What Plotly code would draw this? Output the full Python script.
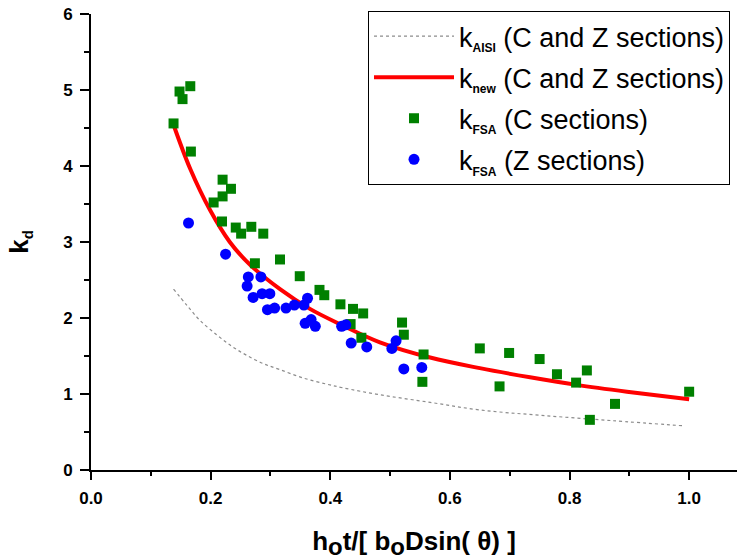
import plotly.graph_objects as go

# k_AISI curve
aisi_x = [0.138, 0.160, 0.182, 0.210, 0.235, 0.260, 0.288, 0.316, 0.355, 0.394,
          0.422, 0.483, 0.567, 0.650, 0.751, 0.870, 0.993]
aisi_y = [2.38, 2.17, 1.97, 1.78, 1.63, 1.51, 1.40, 1.32, 1.21, 1.13,
          1.08, 0.99, 0.89, 0.79, 0.72, 0.65, 0.58]

# k_new curve
new_x = [0.139, 0.166, 0.199, 0.232, 0.266, 0.316, 0.366, 0.416, 0.483, 0.567,
         0.650, 0.734, 0.812, 0.896, 1.0]
new_y = [4.52, 3.96, 3.42, 3.00, 2.70, 2.38, 2.12, 1.92, 1.68, 1.48,
         1.34, 1.22, 1.12, 1.03, 0.93]

# k_FSA C sections
c_x = [0.138, 0.148, 0.153, 0.166, 0.167, 0.205, 0.219, 0.220, 0.220, 0.234,
       0.242, 0.251, 0.268, 0.274, 0.288, 0.316, 0.349, 0.382, 0.390, 0.417,
       0.434, 0.438, 0.452, 0.455, 0.520, 0.523, 0.554, 0.556, 0.650, 0.683,
       0.699, 0.750, 0.779, 0.811, 0.829, 0.834, 0.876, 1.0]
c_y = [4.56, 4.98, 4.88, 5.05, 4.19, 3.52, 3.27, 3.82, 3.60, 3.70,
       3.19, 3.11, 3.20, 2.72, 3.11, 2.77, 2.55, 2.37, 2.30, 2.18,
       1.92, 2.12, 1.74, 2.06, 1.94, 1.78, 1.16, 1.52, 1.60, 1.10,
       1.54, 1.46, 1.26, 1.15, 1.31, 0.66, 0.87, 1.03]

# k_FSA Z sections
z_x = [0.163, 0.225, 0.263, 0.284, 0.261, 0.271, 0.286, 0.299, 0.295, 0.307,
       0.326, 0.340, 0.356, 0.362, 0.358, 0.368, 0.375, 0.419, 0.426, 0.435,
       0.461, 0.503, 0.510, 0.523, 0.553]
z_y = [3.25, 2.84, 2.54, 2.54, 2.42, 2.27, 2.32, 2.32, 2.11, 2.13,
       2.13, 2.17, 2.17, 2.26, 1.93, 1.98, 1.89, 1.89, 1.91, 1.67,
       1.62, 1.60, 1.70, 1.33, 1.35]

x_ticks = [0.0, 0.2, 0.4, 0.6, 0.8, 1.0]
x_ticktext = ["0.0", "0.2", "0.4", "0.6", "0.8", "1.0"]
y_ticks = [0, 1, 2, 3, 4, 5, 6]
y_ticktext = ["0", "1", "2", "3", "4", "5", "6"]

FONT = "Arial, Liberation Sans, sans-serif"
sub = lambda s: '<sub><span style="font-size:12px"><b>%s</b></span></sub>' % s

fig = go.Figure()
fig.add_trace(go.Scatter(x=aisi_x, y=aisi_y, mode="lines", line=dict(color="#8c8c8c", width=1.2, dash="dot", shape="spline"),
                         name="k" + sub("AISI") + " (C and Z sections)", legendgroup="a"))
fig.add_trace(go.Scatter(x=new_x, y=new_y, mode="lines", line=dict(color="#ff0000", width=4, shape="spline"),
                         name="k" + sub("new") + " (C and Z sections)", legendgroup="b"))
fig.add_trace(go.Scatter(x=c_x, y=c_y, mode="markers", marker=dict(symbol="square", size=10, color="#008000"),
                         name="k" + sub("FSA") + " (C sections)", legendgroup="c"))
fig.add_trace(go.Scatter(x=z_x, y=z_y, mode="markers", marker=dict(symbol="circle", size=11, color="#0000ff"),
                         name="k" + sub("FSA") + " (Z sections)", legendgroup="d"))

fig.update_layout(
    width=741, height=560,
    margin=dict(l=91, r=4, t=14, b=90, autoexpand=False),
    paper_bgcolor="white", plot_bgcolor="white",
    font=dict(family=FONT, color="black"),
    showlegend=True,
    legend=dict(x=0.4288, y=1.0066, xanchor="left", yanchor="top",
                bordercolor="black", borderwidth=1, bgcolor="white",
                font=dict(size=27, family=FONT), tracegroupgap=3, itemwidth=80),
    xaxis=dict(range=[0, 1.08], showgrid=False, zeroline=False, automargin=False,
               showline=True, linecolor="black", linewidth=2,
               ticks="outside", tickwidth=2, ticklen=8, tickcolor="black",
               tickvals=x_ticks, ticktext=["<b>%s</b>" % t for t in x_ticktext],
               tickfont=dict(size=17, family=FONT), ticklabelstandoff=4,
               ticklabeloverflow="allow",
               minor=dict(dtick=0.1, tick0=0, ticks="outside", ticklen=4, tickwidth=2, tickcolor="black"),
               title=dict(text='<b>h<sub><span style="font-size:24px">o</span></sub>t/[ b<sub><span style="font-size:24px">o</span></sub>Dsin( θ) ]</b>',
                          font=dict(size=26, family=FONT), standoff=28)),
    yaxis=dict(range=[0, 6], showgrid=False, zeroline=False, automargin=False,
               showline=True, linecolor="black", linewidth=2,
               ticks="outside", tickwidth=2, ticklen=9, tickcolor="black",
               tickvals=y_ticks, ticktext=["<b>%s</b>" % t for t in y_ticktext],
               tickfont=dict(size=17, family=FONT), ticklabelstandoff=4,
               ticklabeloverflow="allow",
               minor=dict(dtick=0.5, tick0=0, ticks="outside", ticklen=5, tickwidth=2, tickcolor="black"),
               title=dict(text='<b>k<sub><span style="font-size:15px">d</span></sub></b>',
                          font=dict(size=26, family=FONT), standoff=27)),
)

# remove the default 8px page margin so the 741x560 figure fills the window
fig.write_html("out.html", config={"displayModeBar": False},
               post_script="document.body.style.margin='0px';")
